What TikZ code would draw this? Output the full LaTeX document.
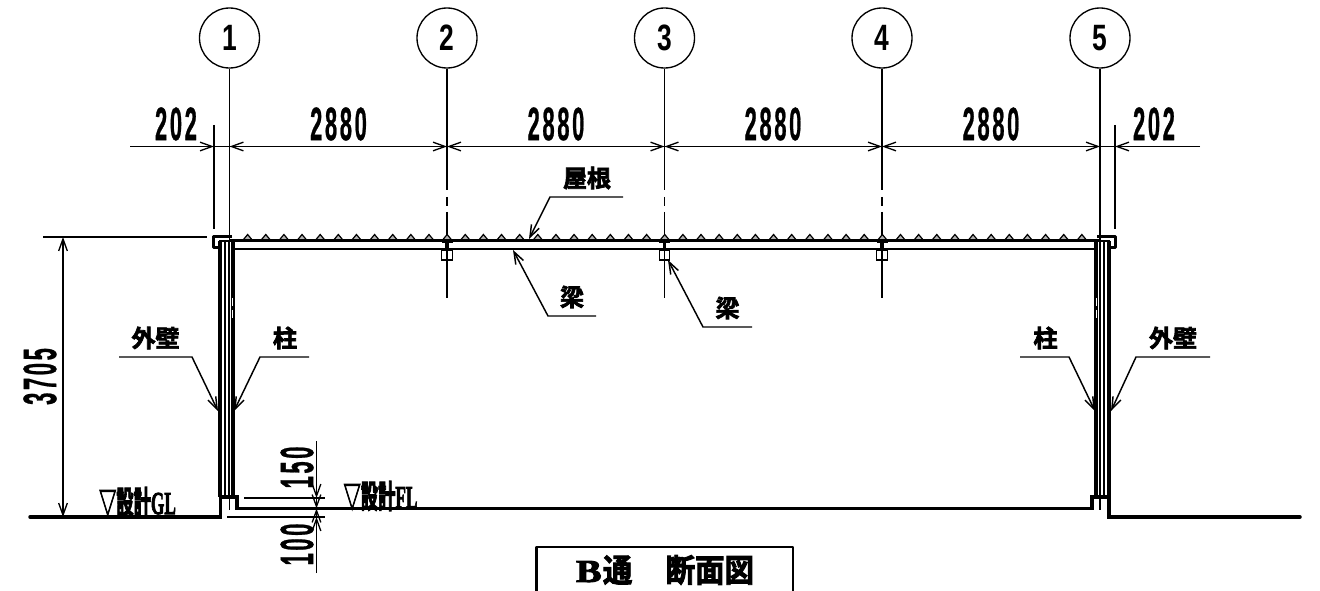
\documentclass[tikz,border=0pt]{standalone}
\usepackage{fontspec}
\usepackage{graphicx}
\usetikzlibrary{arrows.meta}
\setmainfont{Liberation Sans}
\newfontfamily\cjk{Noto Sans CJK JP Bold}[FakeBold=3]
\newfontfamily\cjklev{Noto Sans CJK JP Bold}[FakeBold=3.5]
\newfontfamily\lserif{Liberation Serif Bold}[FakeBold=3]
\newfontfamily\dimf{Liberation Sans Bold}[LetterSpace=12,FakeBold=1]
\newfontfamily\circf{Liberation Sans Bold}
\newcommand{\dimtxt}[1]{\scalebox{.47}[1]{\fontsize{35}{35}\selectfont\dimf #1}}
\newcommand{\circtxt}[1]{\scalebox{.72}[1]{\fontsize{27.5}{27.5}\selectfont\circf #1}}
\newcommand{\lbl}[1]{\fontsize{18}{18}\selectfont\cjk #1}
\newcommand{\lev}[2]{\scalebox{.54}[1]{\fontsize{24}{24}\selectfont{\cjklev #1}{\lserif #2}}}
\tikzset{
  dimline/.style={line width=1pt,{Straight Barb[length=9pt,width=6.5pt]}-{Straight Barb[length=9pt,width=6.5pt]}},
  dimend/.style={line width=1pt,-{Straight Barb[length=9pt,width=6.5pt]}},
  thinl/.style={line width=1pt},
  leader/.style={line width=1.1pt,-{Straight Barb[length=9pt,width=6.5pt]},line join=miter},
  gridcirc/.style={circle,draw,line width=1pt,minimum size=45pt,inner sep=0pt},
  txt/.style={inner sep=0pt,outer sep=0pt},
  rib/.style={line width=.9pt,fill=black!30},
}
\begin{document}
\begin{tikzpicture}[x=.75pt,y=-.75pt]
\useasboundingbox (0,0) rectangle (1320,591);
\fill[white] (0,0) rectangle (1320,591);

% grid circles
\node[gridcirc] (c1) at (229.5,38) {\circtxt{1}};
\node[gridcirc] (c2) at (447,38) {\circtxt{2}};
\node[gridcirc] (c3) at (664.5,38) {\circtxt{3}};
\node[gridcirc] (c4) at (882,38) {\circtxt{4}};
\node[gridcirc] (c5) at (1100,38) {\circtxt{5}};

% grid lines
\coordinate (g1) at (229.5,240);
\coordinate (g5) at (1100,240);
\draw[thinl] (c1.south) -- (g1);
\draw[thinl] (c5.south) -- (g5);
\foreach \n/\x in {2/447,3/664.5,4/882}{
  \coordinate (g\n a) at (\x,190);
  \coordinate (g\n b) at (\x,197);
  \coordinate (g\n c) at (\x,206);
  \coordinate (g\n d) at (\x,212);
  \coordinate (g\n e) at (\x,298);
  \draw[thinl] (c\n.south) -- (g\n a) (g\n b) -- (g\n c) (g\n d) -- (g\n e);
}

% horizontal dimension chain
\coordinate (dl) at (130,146.5);
\coordinate (d0) at (214,146.5);
\coordinate (d1) at (229.5,146.5);
\coordinate (d2) at (447,146.5);
\coordinate (d3) at (664.5,146.5);
\coordinate (d4) at (882,146.5);
\coordinate (d5) at (1100,146.5);
\coordinate (d6) at (1115,146.5);
\coordinate (dr) at (1200,146.5);
\draw[dimend] (dl) -- (d0);
\draw[thinl] (d0) -- (d1);
\draw[dimline] (d1) -- (d2);
\draw[dimline] (d2) -- (d3);
\draw[dimline] (d3) -- (d4);
\draw[dimline] (d4) -- (d5);
\draw[thinl] (d5) -- (d6);
\draw[dimend] (dr) -- (d6);
\coordinate (e0t) at (214,125);
\coordinate (e0b) at (214,229);
\coordinate (e6t) at (1115,125);
\coordinate (e6b) at (1115,229);
\draw[thinl] (e0t) -- (e0b);
\draw[thinl] (e6t) -- (e6b);
\node[txt] (t202a) at (176,124) {\dimtxt{202}};
\node[txt] (t2880a) at (338.5,124) {\dimtxt{2880}};
\node[txt] (t2880b) at (556,124) {\dimtxt{2880}};
\node[txt] (t2880c) at (773,124) {\dimtxt{2880}};
\node[txt] (t2880d) at (991,124) {\dimtxt{2880}};
\node[txt] (t202b) at (1154,124) {\dimtxt{202}};

% roof line and ribs
\foreach \i in {1,...,47}{
  \pgfmathsetmacro{\xx}{229.5+\i*18.135}
  \draw[rib] ({\xx-5},240.5) -- (\xx,234.5) -- ({\xx+5},240.5) -- cycle;
}
\draw[line width=2.4pt] (229,240.5) -- (1100,240.5);
\draw[line width=1.3pt] (233,249) -- (1096,249);

% purlins at the grid lines
\foreach \x in {447,664.5,882}{
  \draw[line width=.9pt] ({\x-5.3},250) rectangle ({\x+5.3},260);
  \draw[line width=1.5pt] ({\x-5.5},242) -- ({\x+5.5},242);
  \draw[line width=2.4pt] (\x,241) -- (\x,250);
}

% left eaves and wall
\draw[line width=2.8pt,line join=round] (232,236.5) -- (213.5,236.5) -- (213.5,247.5) -- (219,247.5);
\draw[line width=1.8pt] (219,241) -- (234,241);
\draw[line width=3.2pt] (219.7,241) -- (219.7,497);
\draw[line width=1.6pt] (225.2,241) -- (225.2,497);
\draw[line width=1.6pt] (229.3,241) -- (229.3,497);
\draw[line width=3.2pt] (232.8,241) -- (232.8,497);
% right eaves and wall
\draw[line width=2.8pt,line join=round] (1097,236.5) -- (1115.5,236.5) -- (1115.5,247.5) -- (1110,247.5);
\draw[line width=1.8pt] (1095,241) -- (1110,241);
\draw[line width=3.2pt] (1109.3,241) -- (1109.3,497);
\draw[line width=1.6pt] (1103.8,241) -- (1103.8,497);
\draw[line width=1.6pt] (1099.7,241) -- (1099.7,497);
\draw[line width=3.2pt] (1096.2,241) -- (1096.2,497);
% breaks in the inner wall lines
\draw[white,line width=.9pt] (232.8,298) -- (232.8,306) (232.8,310) -- (232.8,318);
\draw[white,line width=.9pt] (1096.8,298) -- (1096.8,306) (1096.8,310) -- (1096.8,318);

% ground and floor
\draw[line width=2.6pt,line cap=round,line join=miter] (30,517) -- (220.5,517) -- (220.5,497) -- (237,497) -- (237,508.5) -- (1092,508.5) -- (1092,497) -- (1109,497) -- (1109,517) -- (1300,517);
\draw[line width=1.4pt] (229.5,497) -- (229.5,510);
\draw[line width=1.4pt] (1100,497) -- (1100,510);

% level dimensions
\coordinate (vt) at (316.5,441);
\coordinate (v1) at (316.5,498);
\coordinate (v2) at (316.5,508.5);
\coordinate (v3) at (316.5,517);
\coordinate (vb) at (316.5,573);
\coordinate (h1a) at (244,498);
\coordinate (h1b) at (325,498);
\coordinate (h3a) at (227,517);
\coordinate (h3b) at (325,517);
\draw[thinl] (h1a) -- (h1b);
\draw[thinl] (h3a) -- (h3b);
\draw[dimend] (vt) -- (v1);
\draw[dimend] (vb) -- (v3);
\draw[dimend] (v1) -- (v2);
\draw[dimend] (v3) -- (v2);
\node[txt,rotate=90] (t150) at (297,467.5) {\dimtxt{150}};
\node[txt,rotate=90] (t100) at (297,544.5) {\dimtxt{100}};

% overall height
\coordinate (ht) at (63,237);
\coordinate (hb) at (63,517);
\coordinate (hta) at (43,237);
\coordinate (htb) at (207,237);
\draw[thinl] (hta) -- (htb);
\draw[dimline] (ht) -- (hb);
\node[txt,rotate=90] (t3705) at (40,376.5) {\dimtxt{3705}};

% levels
\node[txt] (gl) at (137.5,502) {\lev{▽設計}{GL}};
\node[txt] (fl) at (380.5,496) {\lev{▽設計}{FL}};

% roof label
\node[txt] (roof) at (587,178) {\lbl{屋根}};
\coordinate (ra) at (623,197);
\coordinate (rb) at (550,197);
\coordinate (rc) at (529,239);
\draw[leader] (ra) -- (rb) -- (rc);

% beam labels
\node[txt] (beama) at (572,297) {\lbl{梁}};
\coordinate (baa) at (596,316);
\coordinate (bab) at (548,316);
\coordinate (bac) at (513,250);
\draw[leader] (baa) -- (bab) -- (bac);
\node[txt] (beamb) at (727.5,308) {\lbl{梁}};
\coordinate (bba) at (752,327);
\coordinate (bbb) at (703,327);
\coordinate (bbc) at (668,260);
\draw[leader] (bba) -- (bbb) -- (bbc);

% wall and column labels
\node[txt] (wl) at (155.5,338) {\lbl{外壁}};
\coordinate (wla) at (119,357);
\coordinate (wlb) at (192,357);
\coordinate (wlc) at (218,411);
\draw[leader] (wla) -- (wlb) -- (wlc);
\node[txt] (cl) at (285,338) {\lbl{柱}};
\coordinate (cla) at (309,357);
\coordinate (clb) at (260,357);
\coordinate (clc) at (234,411);
\draw[leader] (cla) -- (clb) -- (clc);
\node[txt] (cr) at (1045.5,338) {\lbl{柱}};
\coordinate (cra) at (1020,357);
\coordinate (crb) at (1069,357);
\coordinate (crc) at (1095,411);
\draw[leader] (cra) -- (crb) -- (crc);
\node[txt] (wr) at (1173,338) {\lbl{外壁}};
\coordinate (wra) at (1210,357);
\coordinate (wrb) at (1136,357);
\coordinate (wrc) at (1111,411);
\draw[leader] (wra) -- (wrb) -- (wrc);

% title
\draw[line width=2.2pt,line join=round] (536.5,591.5) -- (536.5,547) -- (793,547) -- (793,591.5);
\node[txt] (title) at (665,570) {\fontsize{24}{24}\selectfont\scalebox{1.2}[1]{\lserif B}\hspace{1pt}\scalebox{.92}[1]{\cjk 通}\hspace{25pt}\scalebox{.92}[1]{\cjk 断面図}};
\end{tikzpicture}
\end{document}
